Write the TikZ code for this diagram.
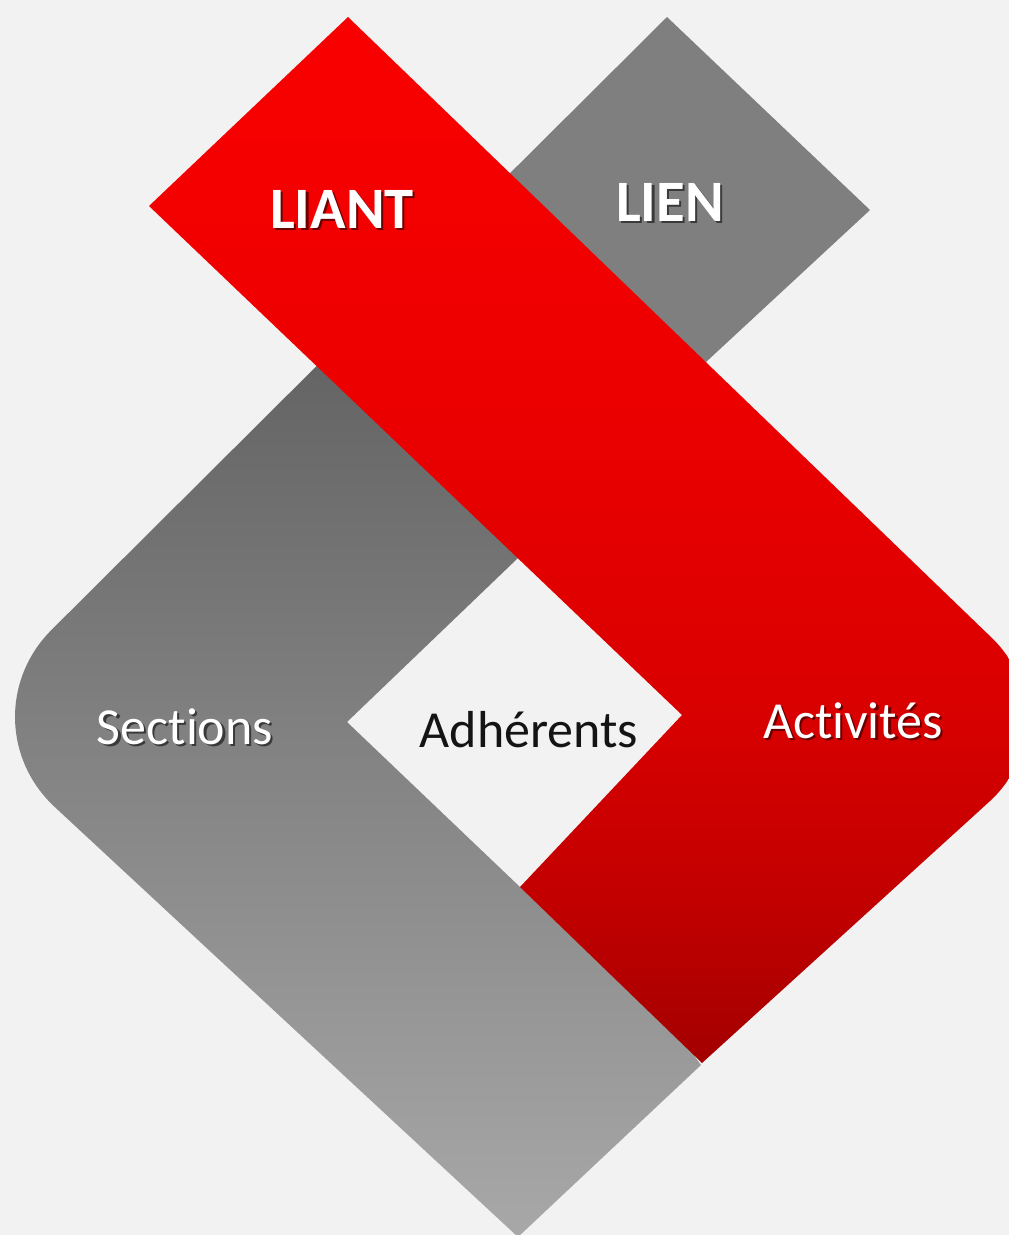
\documentclass[tikz,border=0pt]{standalone}
\usepackage{fontspec}
\setmainfont{Carlito}[Ligatures={NoCommon,NoRare,NoContextual}]
\definecolor{bg}{HTML}{F2F2F2}
\definecolor{redA}{HTML}{FA0000}
\definecolor{redB}{HTML}{EC0000}
\definecolor{redC}{HTML}{DA0000}
\definecolor{redD}{HTML}{C20000}
\definecolor{redE}{HTML}{A30000}
\definecolor{greytop}{HTML}{5E5E5E}
\definecolor{greybot}{HTML}{A8A8A8}
\definecolor{liengrey}{HTML}{7F7F7F}
\definecolor{redshadow}{HTML}{6A0000}
\definecolor{greyshadow}{HTML}{3A3A3A}
\definecolor{darktext}{HTML}{141414}
\pgfdeclareverticalshading{redgrad}{100bp}{color(0bp)=(redE); color(25bp)=(redE); color(32.8bp)=(redD); color(42.4bp)=(redC); color(56.7bp)=(redB); color(75bp)=(redA); color(100bp)=(redA)}
\newcommand{\shadowed}[2]{\leavevmode\rlap{\kern1.6pt\raisebox{-1.6pt}{\textcolor{#1}{#2}}}#2}
\begin{document}
\begin{tikzpicture}[x=0.75pt,y=-0.75pt,
  boldlabel/.style={font=\fontsize{44}{50}\selectfont\bfseries, text=white, anchor=base, inner sep=0pt},
  plainlabel/.style={font=\fontsize{39}{45}\selectfont, text=white, anchor=base, inner sep=0pt},
  redband/.style={shading=redgrad},
  greyband/.style={top color=greytop, bottom color=greybot},
]
\useasboundingbox (0,0) rectangle (1009,1235);
\fill[bg] (0,0) rectangle (1009,1235);
\begin{scope}
\clip (0,0) rectangle (1009,1235);
% LIEN diamond (upper end of the grey band)
\fill[liengrey] (667,17) -- (870,210) -- (706,362) -- (640,420) -- (470,213) -- cycle;
% grey L band
\shade[greyband] (400,283) -- (600,330) -- (518,558) -- (347,722) -- (520,887) -- (560,870)
  -- (701,1065) -- (518,1237) [rounded corners=96pt] -- (-39,720) [sharp corners] -- cycle;
% red band
\shade[redband] (149,206) -- (348,17) [rounded corners=90pt] -- (1078,721) [sharp corners]
  -- (702,1063) -- (520,887) -- (682,715) -- cycle;
\end{scope}
% labels
\node[boldlabel] (liant) at (342,228) {\shadowed{redshadow}{LIANT}};
\node[boldlabel] (lien) at (670,221) {\shadowed{greyshadow}{LIEN}};
\node[plainlabel] (sections) at (185,744) {\shadowed{greyshadow}{Sections}};
\node[plainlabel] (activites) at (853,738) {\shadowed{redshadow}{Activités}};
\node[plainlabel, text=darktext] (adherents) at (529,747) {Adhérents};
\end{tikzpicture}
\end{document}
